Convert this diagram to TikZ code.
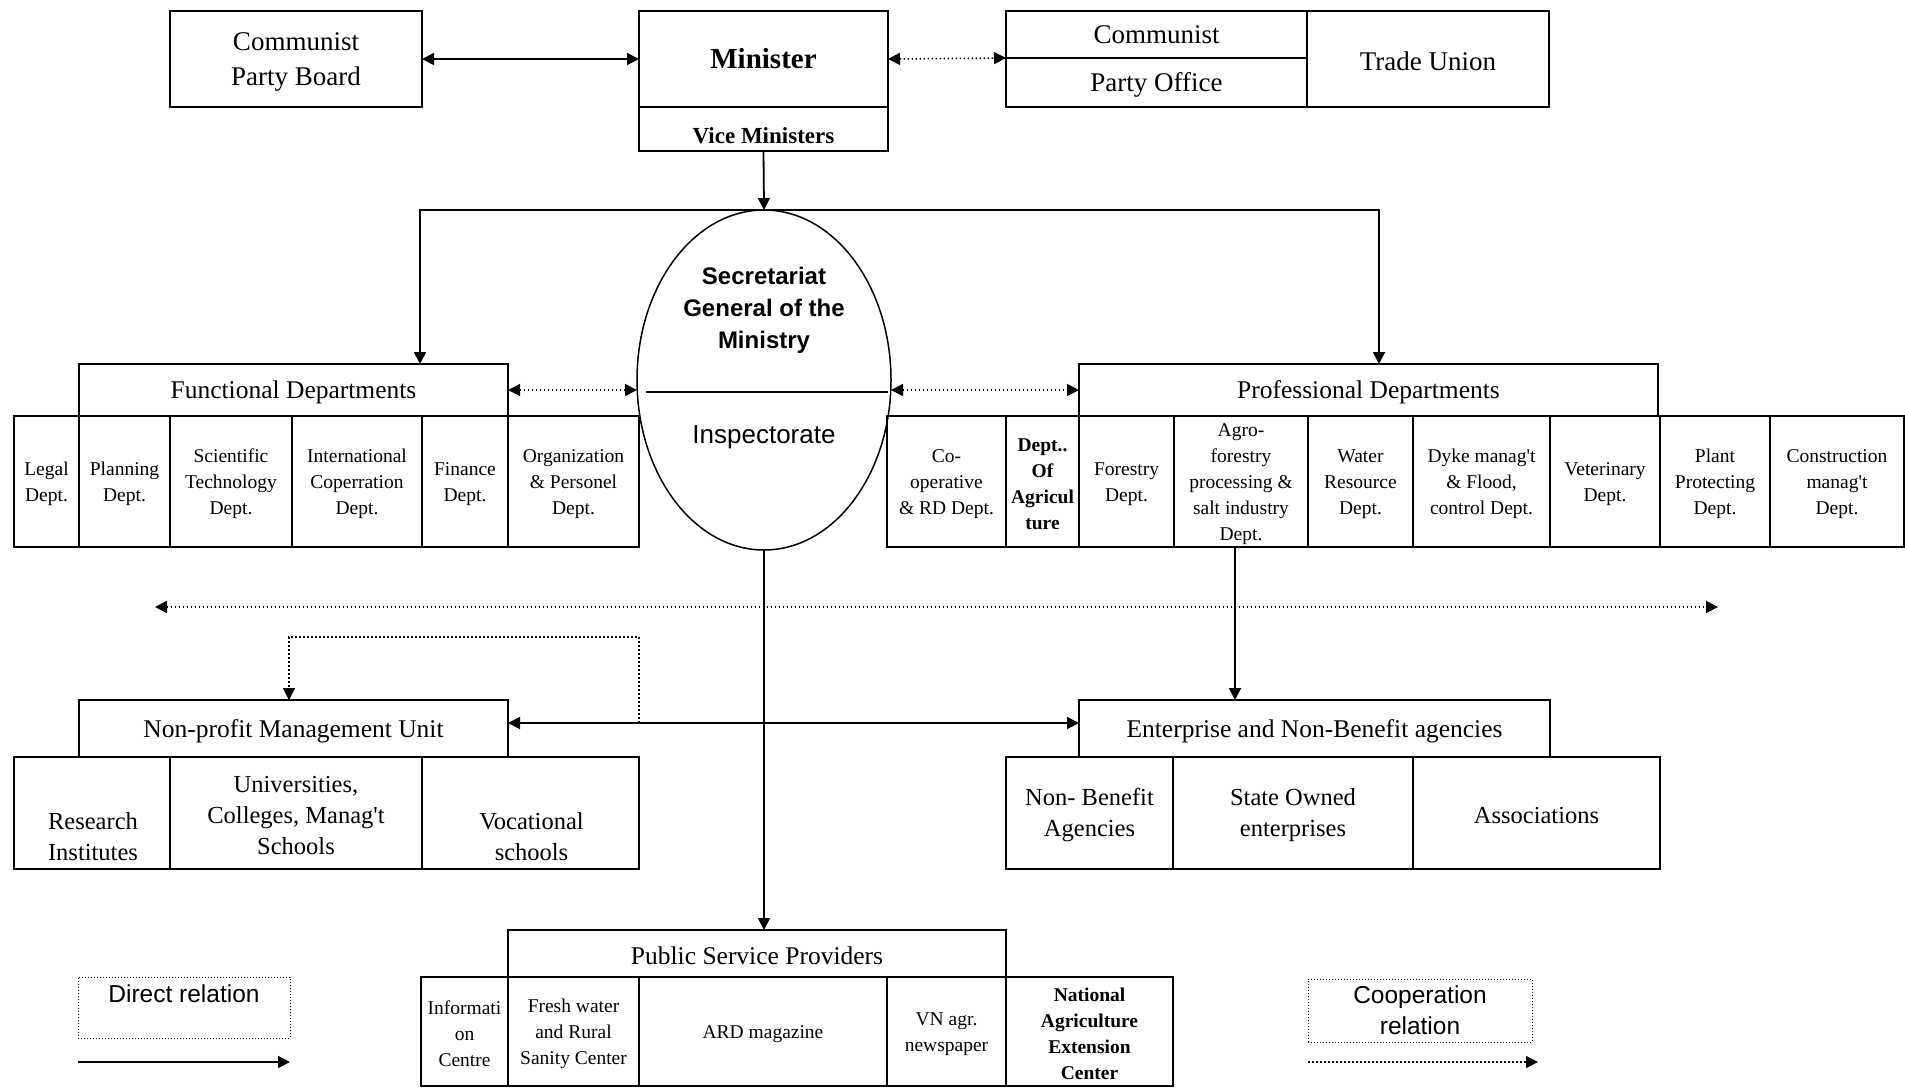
\documentclass[tikz,border=0pt]{standalone}
\usepackage{fontspec}
\setmainfont{Liberation Serif}
\setsansfont{Liberation Sans}
\usetikzlibrary{arrows.meta,shapes.geometric}

% box from (x1,y1) to (x2,y2), y measured downwards; its text sits a little low
\newcommand\cellbox[7][cell]{%
  \node[#1, minimum width={#5-#3}, minimum height={#6-#4}] (#2) at ({(#3+#5)/2},{(#4+#6)/2}) {};
  \node[#1, draw=none, yshift=-2.5pt] (#2T) at (#2.center) {#7};}

\newcommand\apos{\textquotesingle}

\tikzset{
  cell/.style={draw, line width=2.8pt, inner sep=0pt, outer sep=0pt, align=center,
    font=\fontsize{19.5}{26}\selectfont},
  head/.style={cell, font=\fontsize{25.5}{31}\selectfont},
  unit/.style={cell, font=\fontsize{24.5}{31}\selectfont},
  topbox/.style={cell, font=\fontsize{27}{35}\selectfont},
  legendbox/.style={draw, line width=1pt, dash pattern=on 1pt off 2pt, inner sep=0pt, outer sep=0pt},
  txt/.style={inner sep=0pt, outer sep=0pt, align=center},
  conn/.style={line width=1.8pt},
  coop/.style={line width=1.6pt, dash pattern=on 1.6pt off 2.4pt},
}

\begin{document}
\begin{tikzpicture}[x=1pt, y=-1pt, >={Triangle[length=12pt,width=12pt]}]
\path[use as bounding box, fill=white] (0,0) rectangle (1905,1088);

% ---- top level ----
\cellbox[topbox]{cpb}{170}{11}{422}{107}{Communist\\Party Board}
\cellbox[cell]{min}{639}{11}{888}{107}{}
\node[txt, font=\bfseries\fontsize{29}{34}\selectfont] (minTx) at (763.5,59) {Minister};
\cellbox[cell]{vice}{639}{107}{888}{151}{}
\node[txt, font=\bfseries\fontsize{23}{28}\selectfont] (viceTx) at (763.5,135.5) {Vice Ministers};
\cellbox[topbox]{cpoA}{1006}{11}{1307}{58}{}
\node[topbox, draw=none] (cpoAx) at (1156.5,34.5) {Communist};
\cellbox[topbox]{cpoB}{1006}{58}{1307}{107}{Party Office}
\cellbox[topbox]{tu}{1307}{11}{1549}{107}{Trade Union}

% ---- secretariat / inspectorate ----
\node[draw, ellipse, line width=1.5pt, minimum width=254pt, minimum height=340pt,
      inner sep=0pt, outer sep=0pt] (ell) at (764,380) {};
\draw[line width=1.8pt] (646,392) -- (888,392);
\node[txt, font=\sffamily\bfseries\fontsize{24}{32}\selectfont] (secT) at (764,310)
  {Secretariat\\General of the\\Ministry};
\node[txt, font=\sffamily\fontsize{26}{31}\selectfont] (inspT) at (764,437.5) {Inspectorate};

% ---- functional departments ----
\cellbox[head]{fd}{79}{364}{508}{416}{Functional Departments}
\cellbox{c1}{14}{416}{79}{547}{Legal\\Dept.}
\cellbox{c2}{79}{416}{170}{547}{Planning\\Dept.}
\cellbox{c3}{170}{416}{292}{547}{Scientific\\Technology\\Dept.}
\cellbox{c4}{292}{416}{422}{547}{International\\Coperration\\Dept.}
\cellbox{c5}{422}{416}{508}{547}{Finance\\Dept.}
\cellbox{c6}{508}{416}{639}{547}{Organization\\\& Personel\\Dept.}

% ---- professional departments ----
\cellbox[head]{pd}{1079}{364}{1658}{416}{Professional Departments}
\cellbox{r1}{887}{416}{1006}{547}{Co-\\operative\\\& RD Dept.}
\cellbox{r2}{1006}{416}{1079}{547}{\textbf{Dept..}\\\textbf{Of}\\\textbf{Agricul}\\\textbf{ture}}
\cellbox{r3}{1079}{416}{1174}{547}{Forestry\\Dept.}
\cellbox{r4}{1174}{416}{1308}{547}{Agro-\\forestry\\processing \&\\salt industry\\Dept.}
\cellbox{r5}{1308}{416}{1413}{547}{Water\\Resource\\Dept.}
\cellbox{r6}{1413}{416}{1550}{547}{Dyke manag\apos t\\\& Flood,\\control Dept.}
\cellbox{r7}{1550}{416}{1660}{547}{Veterinary\\Dept.}
\cellbox{r8}{1660}{416}{1770}{547}{Plant\\Protecting\\Dept.}
\cellbox{r9}{1770}{416}{1904}{547}{Construction\\manag\apos t\\Dept.}

% ---- non-profit management unit ----
\cellbox[head]{np}{79}{700}{508}{757}{Non-profit Management Unit}
\cellbox[unit]{n1}{14}{757}{170}{869}{}
\node[txt, font=\fontsize{24.5}{31}\selectfont] (n1Tx) at (93,837) {Research\\Institutes};
\cellbox[unit]{n2}{170}{757}{422}{869}{Universities,\\Colleges, Manag\apos t\\Schools}
\cellbox[unit]{n3}{422}{757}{639}{869}{}
\node[txt, font=\fontsize{24.5}{31}\selectfont] (n3Tx) at (531.5,837) {Vocational\\schools};

% ---- enterprises ----
\cellbox[head]{en}{1079}{700}{1550}{757}{Enterprise and Non-Benefit agencies}
\cellbox[unit]{e1}{1006}{757}{1173}{869}{Non- Benefit\\Agencies}
\cellbox[unit]{e2}{1173}{757}{1413}{869}{State Owned\\enterprises}
\cellbox[unit]{e3}{1413}{757}{1660}{869}{Associations}

% ---- public service providers ----
\cellbox[head]{ps}{508}{930}{1006}{977}{Public Service Providers}
\cellbox{p1}{421}{977}{508}{1086}{Informati\\on\\Centre}
\cellbox{p2}{508}{977}{639}{1086}{Fresh water\\and Rural\\Sanity Center}
\cellbox{p3}{639}{977}{887}{1086}{ARD magazine}
\cellbox{p4}{887}{977}{1006}{1086}{VN agr.\\newspaper}
\cellbox{p5}{1006}{977}{1173}{1086}{\textbf{National}\\\textbf{Agriculture}\\\textbf{Extension}\\\textbf{Center}}

% ---- legend ----
\cellbox[legendbox]{lgA}{78}{977}{290}{1038}{}
\node[txt, font=\sffamily\fontsize{24.5}{31}\selectfont] (lgAx) at (184,994) {Direct relation};
\cellbox[legendbox]{lgB}{1308}{979}{1532}{1042}{}
\node[txt, font=\sffamily\fontsize{24.5}{31}\selectfont] (lgBx) at (1420,1010) {Cooperation\\relation};
\coordinate (laS) at (78,1062);
\coordinate (laE) at (290,1062);
\coordinate (lbS) at (1308,1062);
\coordinate (lbE) at (1538,1062);

% ---- connectors ----
\draw[conn, <->] (cpb.east) -- (min.west);
\draw[coop, <->] (min.east) -- (cpoA.south west);
\draw[conn, ->] (vice.south) -- (ell.north);
\coordinate (fdIn) at (420,364);
\coordinate (pdIn) at (1379,364);
\draw[conn, ->] (ell.north) -| (fdIn);
\draw[conn, ->] (ell.north) -| (pdIn);
\draw[coop, <->] (fd.east) -- (fd.east -| ell.west);
\draw[coop, <->] (ell.east |- pd.west) -- (pd.west);

\coordinate (cL) at (155,607);
\coordinate (cR) at (1718,607);
\draw[coop, <->] (cL) -- (cR);

\draw[conn, ->] (ell.south) -- (ell.south |- ps.north);
\coordinate (agroOut) at (1235,547);
\draw[conn, ->] (agroOut) -- (agroOut |- en.north);

\coordinate (npE) at (508,723);
\coordinate (enW) at (1079,723);
\draw[conn, <->] (npE) -- (enW);
\coordinate (dSrc) at (639,723);
\coordinate (dTop) at (639,637);
\coordinate (npIn) at (289,700);
\draw[coop, ->] (dSrc) -- (dTop) -| (npIn);

\draw[conn, ->] (laS) -- (laE);
\draw[coop, ->] (lbS) -- (lbE);
\end{tikzpicture}
\end{document}
